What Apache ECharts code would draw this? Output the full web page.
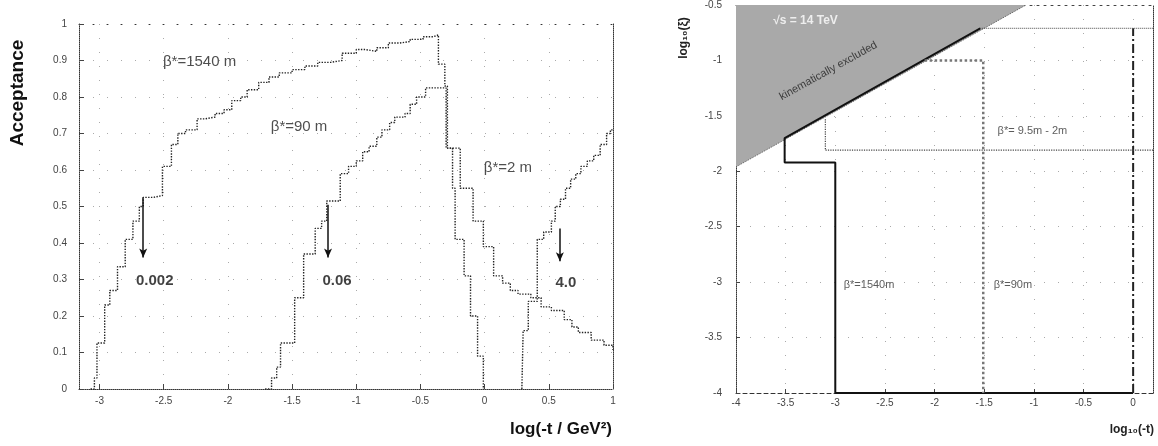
<!DOCTYPE html>
<html>
<head>
<meta charset="utf-8">
<title>Acceptance vs log(-t)</title>
<script src="https://cdn.jsdelivr.net/npm/echarts@6/dist/echarts.min.js"></script>
<style>
html, body { margin: 0; padding: 0; background: #fff; }
#chart { width: 1158px; height: 446px; }
</style>
</head>
<body>
<div id="chart"></div>
<script>
// ---- left panel: acceptance histograms ----
const b1540X = [-3.07, -3.04, -3.02, -2.96, -2.92, -2.86, -2.80, -2.74, -2.69, -2.66, -2.58, -2.51, -2.44, -2.39, -2.33,
  -2.24, -2.18, -2.10, -2.03, -1.97, -1.90, -1.85, -1.76, -1.68, -1.60, -1.50, -1.40, -1.30, -1.20, -1.11, -1.00,
  -0.93, -0.84, -0.75, -0.66, -0.58, -0.48, -0.40, -0.36, -0.31, -0.29, -0.25, -0.23, -0.16, -0.11, -0.055, -0.01]
const b1540Y = [0.0, 0.03, 0.126, 0.23, 0.27, 0.335, 0.41, 0.46, 0.50, 0.525, 0.53, 0.61, 0.67, 0.70, 0.71,
  0.74, 0.745, 0.755, 0.765, 0.79, 0.80, 0.82, 0.84, 0.855, 0.866, 0.875, 0.885, 0.895, 0.90, 0.92, 0.93,
  0.925, 0.935, 0.948, 0.952, 0.958, 0.965, 0.97, 0.89, 0.83, 0.66, 0.55, 0.41, 0.31, 0.20, 0.09, 0.0]

const b90X = [-1.71, -1.66, -1.62, -1.59, -1.48, -1.41, -1.32, -1.27, -1.23, -1.125, -1.06, -1.00, -0.95, -0.90, -0.84,
  -0.80, -0.74, -0.70, -0.62, -0.58, -0.53, -0.46, -0.30, -0.19, -0.09, -0.01, 0.07, 0.14, 0.20, 0.26, 0.36,
  0.44, 0.52, 0.62, 0.68, 0.73, 0.83, 0.93, 1.0]
const b90Y = [0.0, 0.03, 0.06, 0.126, 0.25, 0.37, 0.44, 0.46, 0.515, 0.59, 0.61, 0.625, 0.65, 0.665, 0.69,
  0.71, 0.73, 0.745, 0.755, 0.78, 0.80, 0.825, 0.66, 0.55, 0.46, 0.39, 0.31, 0.29, 0.27, 0.26, 0.25,
  0.225, 0.215, 0.19, 0.17, 0.155, 0.134, 0.12, 0.107]

const b2X = [0.29, 0.30, 0.34, 0.41, 0.46, 0.52, 0.55, 0.59, 0.63, 0.67, 0.71, 0.75, 0.80, 0.85, 0.90, 0.95, 0.98, 1.0]
const b2Y = [0.0, 0.16, 0.24, 0.41, 0.43, 0.46, 0.50, 0.52, 0.55, 0.575, 0.59, 0.61, 0.625, 0.64, 0.67, 0.70, 0.71, 0.71]

const leftXTicks = [-3, -2.5, -2, -1.5, -1, -0.5, 0, 0.5, 1]

const curveText = ['β*=1540 m', 'β*=90 m', 'β*=2 m']
const curveTextX = [-2.51, -1.67, -0.01]
const curveTextY = [0.896, 0.718, 0.605]

const arrowX = [-2.66, -1.22, 0.586]
const arrowTop = [0.525, 0.505, 0.44]
const arrowBottom = [0.36, 0.36, 0.35]
const arrowText = ['0.002', '0.06', '4.0']
const arrowTextX = [-2.57, -1.15, 0.633]
const arrowTextY = [0.296, 0.296, 0.29]

// ---- right panel: (log t, log xi) coverage ----
const exclX = [-4, -1.08]
const exclY = [-1.96, -0.5]
const r1540X = [-1.54, -3.51, -3.51, -3.0, -3.0, 0.0]
const r1540Y = [-0.71, -1.70, -1.92, -1.92, -4.0, -4.0]
const rZeroX = [0, 0]
const rZeroY = [-4.0, -0.71]
const rTopX = [-1.54, 0.2]
const rTopY = [-0.71, -0.71]
const r90X = [-2.1, -1.51, -1.51]
const r90Y = [-1.0, -1.0, -4.0]
const r95X = [-3.1, -3.1, 0.2]
const r95Y = [-1.53, -1.81, -1.81]
const rightXTicks = [-4, -3.5, -3, -2.5, -2, -1.5, -1, -0.5, 0]

const regionText = ['β*=1540m', 'β*=90m', 'β*= 9.5m - 2m']
const regionTextX = [-2.92, -1.41, -1.37]
const regionTextY = [-3.03, -3.03, -1.636]

const font = 'Liberation Sans, Arial, sans-serif'

function pairs (xs, ys) {
  return xs.map((x, i) => [x, ys[i]])
}
function labelled (names, xs, ys) {
  return names.map((n, i) => ({ name: n, value: [xs[i], ys[i]] }))
}

const tickLabel = { fontSize: 10, color: '#444', fontFamily: font }
const dots = { color: '#333', type: 'dotted', width: 1 }
const sparse = { color: '#333', type: [1, 13], width: 1 }
const faintGrid = { show: true, lineStyle: { color: '#aaa', type: [1, 13], width: 1 } }

function frameAxis (grid, pos, min, max, line) {
  return {
    type: 'value', gridIndex: grid, position: pos, min: min, max: max,
    axisLine: { show: true, onZero: false, lineStyle: line }, axisTick: { show: false },
    axisLabel: { show: false }, splitLine: { show: false }
  }
}

function histo (name, xs, ys) {
  return {
    name: name, type: 'line', step: 'end', xAxisIndex: 0, yAxisIndex: 0,
    data: pairs(xs, ys), symbol: 'none',
    lineStyle: { color: '#222', width: 1.4, type: 'dotted' }
  }
}

function region (xs, ys, style) {
  return {
    type: 'line', xAxisIndex: 2, yAxisIndex: 2, data: pairs(xs, ys),
    symbol: 'none', lineStyle: style, z: 4
  }
}

function textSeries (xAxis, yAxis, data, label) {
  return {
    type: 'scatter', xAxisIndex: xAxis, yAxisIndex: yAxis, data: data,
    symbolSize: 1, itemStyle: { color: 'transparent' }, silent: true, z: 6,
    label: Object.assign({ show: true, formatter: '{b}', fontFamily: font }, label)
  }
}

const option = {
  animation: false,
  backgroundColor: '#fff',
  grid: [
    { left: 79, top: 24, width: 534, height: 365 },
    { left: 736, top: 5, width: 417, height: 388 }
  ],
  xAxis: [
    {
      type: 'value', gridIndex: 0, min: -3.16, max: 1.0,
      axisLine: { show: true, onZero: false, lineStyle: dots },
      axisTick: { show: true, inside: true, length: 5, customValues: leftXTicks, lineStyle: { color: '#444' } },
      axisLabel: Object.assign({ margin: 7, customValues: leftXTicks }, tickLabel),
      splitLine: faintGrid
    },
    frameAxis(0, 'top', -3.16, 1.0, sparse),
    {
      type: 'value', gridIndex: 1, min: -4, max: 0.2,
      axisLine: { show: true, onZero: false, lineStyle: { color: '#333', type: [4, 3], width: 1 } },
      axisTick: { show: true, inside: true, length: 4, customValues: rightXTicks, lineStyle: { color: '#444' } },
      axisLabel: Object.assign({ margin: 5, customValues: rightXTicks }, tickLabel),
      splitLine: faintGrid
    },
    frameAxis(1, 'top', -4, 0.2, { color: '#444', type: [2, 5], width: 1 })
  ],
  yAxis: [
    {
      type: 'value', gridIndex: 0, min: 0, max: 1, interval: 0.1,
      axisLine: { show: true, onZero: false, lineStyle: dots },
      axisTick: { show: true, inside: true, length: 5, lineStyle: { color: '#444' } },
      axisLabel: Object.assign({ margin: 12, showMaxLabel: true }, tickLabel),
      splitLine: { show: true, showMaxLine: false, lineStyle: faintGrid.lineStyle }
    },
    frameAxis(0, 'right', 0, 1, dots),
    {
      type: 'value', gridIndex: 1, min: -4, max: -0.5, interval: 0.5,
      axisLine: { show: true, onZero: false, lineStyle: dots },
      axisTick: { show: true, inside: true, length: 4, lineStyle: { color: '#444' } },
      axisLabel: Object.assign({ margin: 14 }, tickLabel),
      splitLine: faintGrid
    },
    frameAxis(1, 'right', -4, -0.5, dots)
  ],
  series: [
    histo('β*=1540 m', b1540X, b1540Y),
    histo('β*=90 m', b90X, b90Y),
    histo('β*=2 m', b2X, b2Y),
    {
      type: 'line', xAxisIndex: 0, yAxisIndex: 0, data: [],
      markLine: {
        silent: true, animation: false,
        symbol: ['none', 'arrow'], symbolSize: [6, 9],
        lineStyle: { color: '#111', width: 1.5, type: 'solid' },
        label: { show: false },
        data: arrowX.map((x, i) => [{ coord: [x, arrowTop[i]] }, { coord: [x, arrowBottom[i]] }])
      }
    },
    textSeries(0, 0, labelled(curveText, curveTextX, curveTextY),
      { position: 'right', distance: 0, fontSize: 15, color: '#222' }),
    textSeries(0, 0, labelled(arrowText, arrowTextX, arrowTextY),
      { position: 'inside', fontSize: 15, fontWeight: 'bold', color: '#111' }),

    {
      type: 'line', xAxisIndex: 2, yAxisIndex: 2, data: pairs(exclX, exclY),
      symbol: 'none', lineStyle: { color: '#555', width: 1, type: 'dotted' },
      areaStyle: { origin: 'end', color: '#a9a9a9', opacity: 1 }, z: 2
    },
    region(r1540X, r1540Y, { color: '#111', width: 2, type: 'solid' }),
    region(rZeroX, rZeroY, { color: '#222', width: 2, type: [9, 3, 2, 3] }),
    region(rTopX, rTopY, { color: '#444', width: 1, type: 'dotted' }),
    region(r90X, r90Y, { color: '#777', width: 2.5, type: 'dotted' }),
    region(r95X, r95Y, { color: '#444', width: 1.2, type: 'dotted' }),
    textSeries(2, 2, labelled(regionText, regionTextX, regionTextY),
      { position: 'right', distance: 0, fontSize: 11, color: '#333' }),
    textSeries(2, 2, [{ name: 'kinematically excluded', value: [-3.07, -1.095] }],
      { position: 'inside', rotate: 29, fontSize: 11, color: '#222' }),
    textSeries(2, 2, [{ name: '√s = 14 TeV', value: [-3.3, -0.644] }],
      { position: 'inside', fontSize: 12, fontWeight: 'bold', color: '#fff' })
  ],
  graphic: [
    {
      type: 'text', x: 18, y: 93, rotation: Math.PI / 2,
      style: { text: 'Acceptance', font: 'bold 19px ' + font, fill: '#111', textAlign: 'center', textVerticalAlign: 'middle' }
    },
    {
      type: 'text', x: 612, y: 429,
      style: { text: 'log(-t / GeV²)', font: 'bold 17px ' + font, fill: '#111', textAlign: 'right', textVerticalAlign: 'middle' }
    },
    {
      type: 'text', x: 684, y: 38, rotation: Math.PI / 2,
      style: { text: 'log₁₀(ξ)', font: 'bold 12px ' + font, fill: '#222', textAlign: 'center', textVerticalAlign: 'middle' }
    },
    {
      type: 'text', x: 1154, y: 430,
      style: { text: 'log₁₀(-t)', font: 'bold 12px ' + font, fill: '#222', textAlign: 'right', textVerticalAlign: 'middle' }
    }
  ]
}

const chart = echarts.init(document.getElementById('chart'))
chart.setOption(option)
</script>
</body>
</html>
